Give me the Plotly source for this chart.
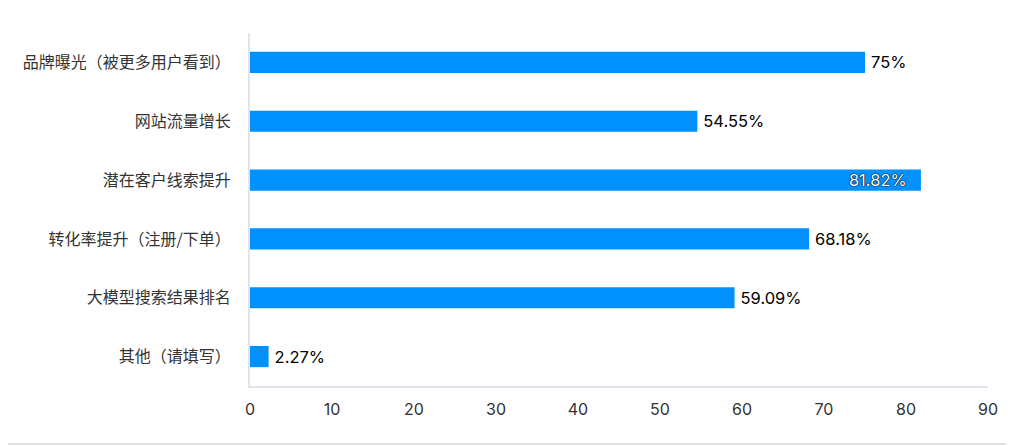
import plotly.graph_objects as go

categories = ["品牌曝光（被更多用户看到）", "网站流量增长", "潜在客户线索提升",
              "转化率提升（注册/下单）", "大模型搜索结果排名", "其他（请填写）"]
values = [75, 54.55, 81.82, 68.18, 59.09, 2.27]
labels = ["75%", "54.55%", "81.82%", "68.18%", "59.09%", "2.27%"]
tick_vals = [0, 10, 20, 30, 40, 50, 60, 70, 80, 90]

vmax = max(values)
positions = ["inside" if v == vmax else "outside" for v in values]
texts = [(l + "\u2002\u2009") if v == vmax else ("\u2009" + l) for l, v in zip(labels, values)]

font_family = "'Helvetica Neue', Inter, 'Noto Sans CJK SC', sans-serif"
cjk_family = "'Noto Sans CJK SC', 'Noto Sans', sans-serif"

fig = go.Figure(go.Bar(
    x=values, y=categories, orientation="h",
    marker=dict(color="#0091ff", line=dict(width=0)),
    text=texts, textposition=positions,
    insidetextanchor="end",
    textangle=0,
    outsidetextfont=dict(size=16.5, color="#000000", family=font_family),
    insidetextfont=dict(size=16.5, color="#ffffff", family=font_family,
                        shadow="0 0 1px #000, 0 0 1px #000, 0 0 1px #000"),
    constraintext="none",
    cliponaxis=False,
    width=0.36,
    hoverinfo="skip",
))

fig.update_layout(
    width=1014, height=446,
    margin=dict(l=242, r=34, t=25, b=68),
    paper_bgcolor="white", plot_bgcolor="white",
    font=dict(family=font_family, size=16, color="#333333"),
    showlegend=False,
    uniformtext=dict(mode=False),
    xaxis=dict(range=[0, 90], tickvals=tick_vals, showgrid=False, zeroline=False,
               showline=True, linecolor="#dfe4ee", linewidth=2,
               ticks="", tickfont=dict(size=16, color="#333333", family=font_family),
               ticklabelstandoff=8),
    yaxis=dict(autorange="reversed", showgrid=False, zeroline=False,
               showline=True, linecolor="#dfe4ee", linewidth=2,
               ticks="", tickfont=dict(size=16, color="#333333", family=cjk_family),
               ticklabelstandoff=14),
    shapes=[dict(type="line", xref="paper", yref="paper",
                 x0=-250/738, x1=1014/738 - 250/738, y0=-58/353, y1=-58/353,
                 line=dict(color="#e0e0e0", width=2))],
)

fig.write_html("out.html")
